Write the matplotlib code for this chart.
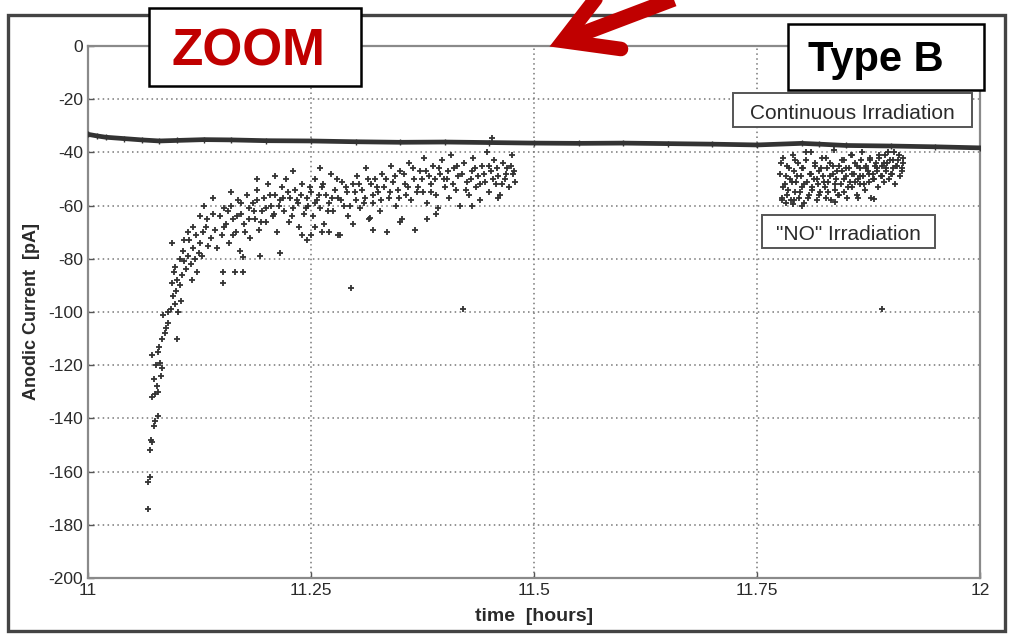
import matplotlib
matplotlib.use("Agg")
import matplotlib.pyplot as plt
from matplotlib.lines import Line2D
from matplotlib.patches import Rectangle

plt.rcParams['font.family'] = ['Liberation Sans', 'DejaVu Sans']
plt.rcParams['axes.unicode_minus'] = False

# ---------------- data ----------------
x_ticks = [11, 11.25, 11.5, 11.75, 12]
x_tick_labels = ['11', '11.25', '11.5', '11.75', '12']
y_ticks = [0, -20, -40, -60, -80, -100, -120, -140, -160, -180, -200]

# continuous irradiation (dense trace)
cont_t = [11.0, 11.01, 11.02, 11.04, 11.06, 11.08, 11.1, 11.13, 11.16, 11.2, 11.25,
          11.3, 11.35, 11.4, 11.45, 11.5, 11.55, 11.6, 11.65, 11.7, 11.75, 11.8,
          11.82, 11.85, 11.9, 11.95, 12.0]
cont_i = [-33.2, -33.8, -34.3, -34.8, -35.3, -35.7, -35.5, -35.2, -35.3, -35.6, -35.7,
          -36.0, -36.2, -36.1, -36.3, -36.5, -36.6, -36.5, -36.7, -36.9, -37.2, -36.6,
          -36.9, -37.4, -37.6, -37.9, -38.3]

# "NO" irradiation, first period
no_irr_1 = [
    (11.067, -174), (11.067, -164), (11.069, -162), (11.069, -152), (11.071, -148),
    (11.072, -149), (11.074, -143), (11.075, -141), (11.078, -139), (11.072, -132),
    (11.075, -131), (11.079, -130), (11.077, -128), (11.074, -125), (11.082, -124),
    (11.076, -120), (11.081, -119), (11.083, -121), (11.072, -116), (11.078, -115),
    (11.080, -113), (11.083, -110), (11.086, -108), (11.088, -106), (11.090, -104),
    (11.100, -110), (11.084, -101), (11.090, -100), (11.093, -99), (11.101, -100),
    (11.097, -97), (11.104, -96), (11.095, -94), (11.099, -92), (11.094, -89),
    (11.100, -88), (11.103, -90), (11.096, -85), (11.098, -83), (11.105, -86),
    (11.094, -74), (11.103, -80), (11.108, -81), (11.112, -79), (11.106, -77),
    (11.110, -84), (11.115, -82), (11.118, -76), (11.113, -73), (11.120, -80),
    (11.124, -78), (11.117, -88), (11.122, -85), (11.126, -74), (11.129, -70),
    (11.121, -71), (11.132, -68), (11.128, -79), (11.135, -75), (11.133, -65),
    (11.138, -72), (11.140, -63), (11.142, -69), (11.145, -76), (11.148, -64),
    (11.150, -71), (11.152, -61), (11.155, -67), (11.158, -74), (11.160, -60),
    (11.163, -65), (11.166, -70), (11.168, -58), (11.170, -77), (11.172, -63),
    (11.175, -67), (11.178, -56), (11.180, -61), (11.182, -72), (11.185, -59),
    (11.187, -65), (11.190, -54), (11.192, -69), (11.195, -62), (11.197, -57),
    (11.200, -66), (11.202, -52), (11.205, -60), (11.207, -64), (11.210, -56),
    (11.212, -70), (11.215, -58), (11.217, -53), (11.220, -62), (11.222, -50),
    (11.225, -66), (11.227, -57), (11.230, -61), (11.232, -54), (11.235, -59),
    (11.237, -68), (11.240, -52), (11.242, -63), (11.245, -57), (11.247, -60),
    (11.250, -55), (11.252, -64), (11.255, -50), (11.257, -58), (11.260, -61),
    (11.262, -53), (11.265, -67), (11.267, -56), (11.270, -59), (11.272, -48),
    (11.275, -62), (11.277, -54), (11.280, -57), (11.282, -71), (11.285, -51),
    (11.287, -60), (11.290, -55), (11.292, -64), (11.295, -91), (11.297, -52),
    (11.300, -58), (11.302, -49), (11.305, -61), (11.307, -54), (11.310, -57),
    (11.312, -46), (11.315, -65), (11.317, -52), (11.320, -59), (11.322, -50),
    (11.325, -55), (11.327, -62), (11.330, -48), (11.332, -53), (11.335, -70),
    (11.337, -57), (11.340, -45), (11.342, -51), (11.345, -60), (11.347, -54),
    (11.350, -47), (11.352, -65), (11.355, -52), (11.357, -56), (11.360, -44),
    (11.362, -58), (11.365, -50), (11.367, -69), (11.370, -53), (11.372, -47),
    (11.375, -55), (11.377, -42), (11.380, -59), (11.382, -49), (11.385, -52),
    (11.387, -45), (11.390, -56), (11.392, -61), (11.395, -48), (11.397, -43),
    (11.400, -53), (11.402, -50), (11.405, -57), (11.407, -41), (11.410, -46),
    (11.412, -54), (11.415, -49), (11.417, -60), (11.420, -99), (11.422, -44),
    (11.425, -51), (11.427, -56), (11.430, -47), (11.432, -42), (11.435, -53),
    (11.437, -49), (11.440, -58), (11.442, -45), (11.445, -51), (11.447, -40),
    (11.450, -55), (11.452, -47), (11.455, -43), (11.457, -52), (11.460, -49),
    (11.462, -56), (11.465, -44), (11.467, -50), (11.470, -46), (11.472, -53),
    (11.475, -41), (11.477, -48), (11.479, -51), (11.453, -34.6),
    (11.153, -68), (11.157, -62), (11.162, -71), (11.167, -64), (11.171, -59),
    (11.176, -70), (11.181, -65), (11.186, -62), (11.189, -58), (11.194, -66),
    (11.199, -61), (11.204, -56), (11.209, -63), (11.214, -60), (11.219, -57),
    (11.224, -55), (11.229, -64), (11.234, -58), (11.239, -56), (11.244, -61),
    (11.249, -53), (11.254, -59), (11.259, -56), (11.264, -52), (11.269, -62),
    (11.274, -57), (11.279, -50), (11.284, -58), (11.289, -53), (11.294, -60),
    (11.299, -55), (11.304, -52), (11.309, -59), (11.314, -50), (11.319, -56),
    (11.324, -53), (11.329, -58), (11.334, -50), (11.339, -55), (11.344, -49),
    (11.349, -57), (11.354, -48), (11.359, -53), (11.364, -46), (11.369, -55),
    (11.374, -50), (11.379, -47), (11.384, -55), (11.389, -50), (11.394, -46),
    (11.399, -50), (11.404, -47), (11.409, -52), (11.414, -45), (11.419, -48),
    (11.424, -54), (11.429, -50), (11.434, -46), (11.439, -52), (11.444, -48),
    (11.449, -45), (11.454, -50), (11.459, -46), (11.464, -52), (11.469, -48),
    (11.474, -45), (11.478, -47), (11.210, -49), (11.230, -47), (11.190, -50),
    (11.260, -46), (11.160, -55), (11.140, -57), (11.130, -60), (11.125, -64),
    (11.118, -68), (11.112, -70), (11.108, -73), (11.174, -79.5), (11.193, -79),
    (11.215, -78), (11.165, -85), (11.174, -85), (11.151, -89), (11.151, -85),
    (11.240, -71), (11.255, -68), (11.270, -70), (11.245, -73), (11.320, -69),
    (11.380, -65), (11.460, -57), (11.430, -60), (11.390, -63), (11.350, -66),
    (11.316, -64.7), (11.297, -67), (11.280, -71), (11.262, -70), (11.250, -71),
]

# "NO" irradiation, second period
no_irr_2 = [
    (11.776, -48), (11.778, -57), (11.779, -42), (11.781, -52), (11.782, -59),
    (11.784, -45), (11.785, -54), (11.787, -50), (11.788, -58), (11.790, -41),
    (11.791, -47), (11.793, -55), (11.794, -51), (11.796, -44), (11.797, -57),
    (11.799, -49), (11.800, -53), (11.802, -46), (11.803, -59), (11.805, -43),
    (11.806, -51), (11.808, -56), (11.809, -48), (11.811, -40), (11.812, -54),
    (11.814, -50), (11.815, -45), (11.817, -58), (11.818, -52), (11.820, -47),
    (11.821, -55), (11.823, -42), (11.824, -49), (11.826, -53), (11.827, -57),
    (11.829, -46), (11.830, -51), (11.832, -44), (11.833, -58), (11.835, -48),
    (11.836, -39), (11.838, -54), (11.839, -50), (11.841, -56), (11.842, -45),
    (11.844, -52), (11.845, -47), (11.847, -43), (11.848, -55), (11.850, -49),
    (11.851, -57), (11.853, -46), (11.854, -51), (11.856, -41), (11.857, -53),
    (11.859, -48), (11.860, -44), (11.862, -56), (11.863, -50), (11.865, -46),
    (11.866, -52), (11.868, -40), (11.869, -49), (11.871, -54), (11.872, -45),
    (11.874, -47), (11.875, -51), (11.877, -43), (11.878, -57), (11.880, -48),
    (11.881, -50), (11.883, -44), (11.884, -46), (11.886, -53), (11.887, -42),
    (11.889, -49), (11.890, -45), (11.892, -51), (11.893, -41), (11.895, -47),
    (11.896, -44), (11.898, -50), (11.899, -43), (11.901, -48), (11.902, -46),
    (11.904, -40), (11.905, -52), (11.907, -45), (11.908, -43), (11.910, -49),
    (11.912, -47), (11.914, -44),
    (11.777, -44), (11.779, -53), (11.782, -49), (11.784, -56), (11.786, -46),
    (11.789, -51), (11.791, -58), (11.793, -43), (11.795, -49), (11.798, -55),
    (11.800, -46), (11.803, -52), (11.805, -40), (11.807, -57), (11.810, -48),
    (11.812, -53), (11.815, -44), (11.817, -50), (11.820, -56), (11.822, -46),
    (11.825, -51), (11.827, -42), (11.830, -55), (11.832, -49), (11.835, -45),
    (11.837, -52), (11.840, -47), (11.842, -56), (11.845, -43), (11.847, -50),
    (11.850, -46), (11.852, -53), (11.855, -41), (11.857, -48), (11.860, -51),
    (11.862, -45), (11.865, -49), (11.867, -43), (11.870, -52), (11.872, -46),
    (11.875, -48), (11.877, -42), (11.880, -50), (11.882, -45), (11.885, -47),
    (11.887, -41), (11.890, -49), (11.892, -44), (11.895, -46), (11.897, -40),
    (11.900, -48), (11.903, -43), (11.906, -45), (11.909, -41), (11.912, -46),
    (11.914, -42), (11.837, -58.6), (11.863, -57), (11.881, -57.5), (11.790, -59.5),
    (11.800, -60), (11.778, -58), (11.890, -99),
]

# ---------------- figure ----------------
W, H = 1009, 634
fig = plt.figure(figsize=(W / 100, H / 100), dpi=100)
fig.patch.set_facecolor('white')

def fx(px):
    return px / W

def fy(py):
    return 1 - py / H

ax = fig.add_axes([fx(88), fy(578), fx(980) - fx(88), fy(46) - fy(578)])

mk_color = '#333333'
ax.plot(cont_t, cont_i, color='#333333', lw=3.4, zorder=3)
ax.plot(cont_t, cont_i, ls='none', marker='+', ms=4, mew=1, color='#333333', zorder=3)

t1 = [p[0] for p in no_irr_1]
i1 = [p[1] for p in no_irr_1]
t2 = [p[0] for p in no_irr_2]
i2 = [p[1] for p in no_irr_2]
ax.plot(t1, i1, ls='none', marker='+', ms=5, mew=1.3, color=mk_color, zorder=3)
ax.plot(t2, i2, ls='none', marker='+', ms=5, mew=1.3, color=mk_color, zorder=3)

ax.set_xlim(11, 12)
ax.set_ylim(-200, 0)
ax.set_xticks(x_ticks)
ax.set_xticklabels(x_tick_labels)
ax.set_yticks(y_ticks)
ax.grid(True, color='#777777', linestyle=(0, (1, 2.2)), lw=1.1)
ax.tick_params(direction='in', length=4, colors='#555555', labelcolor='#2a2a2a',
               labelsize=12.5, width=1)
for s in ax.spines.values():
    s.set_color('#8a8a8a')
    s.set_linewidth(1.6)

ax.set_xlabel('time  [hours]', fontsize=14, fontweight='bold', color='#2a2a2a', labelpad=7)
ax.set_ylabel('Anodic Current  [pA]', fontsize=13, fontweight='bold', color='#2a2a2a', labelpad=6)

# outer frame
fig.add_artist(Rectangle((fx(8), fy(631)), fx(1005) - fx(8), fy(15) - fy(631),
                         transform=fig.transFigure, fill=False, ec='#444444', lw=2.4))

# annotation boxes inside plot
def box(x0, y0, x1, y1, lw, ec, z=5):
    fig.add_artist(Rectangle((fx(x0), fy(y1)), fx(x1) - fx(x0), fy(y0) - fy(y1),
                             transform=fig.transFigure, fc='white', ec=ec, lw=lw, zorder=z))

box(733, 93, 972, 127, 1.4, '#555555')
fig.text(fx(852), fy(119), 'Continuous Irradiation', ha='center', va='baseline',
         fontsize=15, color='#2a2a2a', zorder=6)
box(762, 215, 935, 248, 1.4, '#555555')
fig.text(fx(848), fy(240), '"NO" Irradiation', ha='center', va='baseline',
         fontsize=15, color='#2a2a2a', zorder=6)

box(149, 8, 361, 86, 1.8, 'black', z=7)
fig.text(fx(248), fy(65), 'ZOOM', ha='center', va='baseline', fontsize=37,
         fontweight='bold', color='#C00000', zorder=8)
box(788, 24, 984, 90, 1.8, 'black', z=7)
fig.text(fx(876), fy(71), 'Type B', ha='center', va='baseline', fontsize=30,
         fontweight='bold', color='black', zorder=8)

# red arrow (open head with shaft)
tip = (563, 41)
wing_up = (604, -12)
wing_low = (621, 49)
shaft_end = (708, -14)
fig.add_artist(Line2D([fx(wing_up[0]), fx(tip[0]), fx(wing_low[0])],
                      [fy(wing_up[1]), fy(tip[1]), fy(wing_low[1])],
                      transform=fig.transFigure, color='#C00000', lw=10.5,
                      solid_capstyle='round', solid_joinstyle='miter', zorder=9))
fig.add_artist(Line2D([fx(tip[0]), fx(shaft_end[0])], [fy(tip[1]), fy(shaft_end[1])],
                      transform=fig.transFigure, color='#C00000', lw=11,
                      solid_capstyle='butt', zorder=9))

fig.savefig('out.png', dpi=100)
